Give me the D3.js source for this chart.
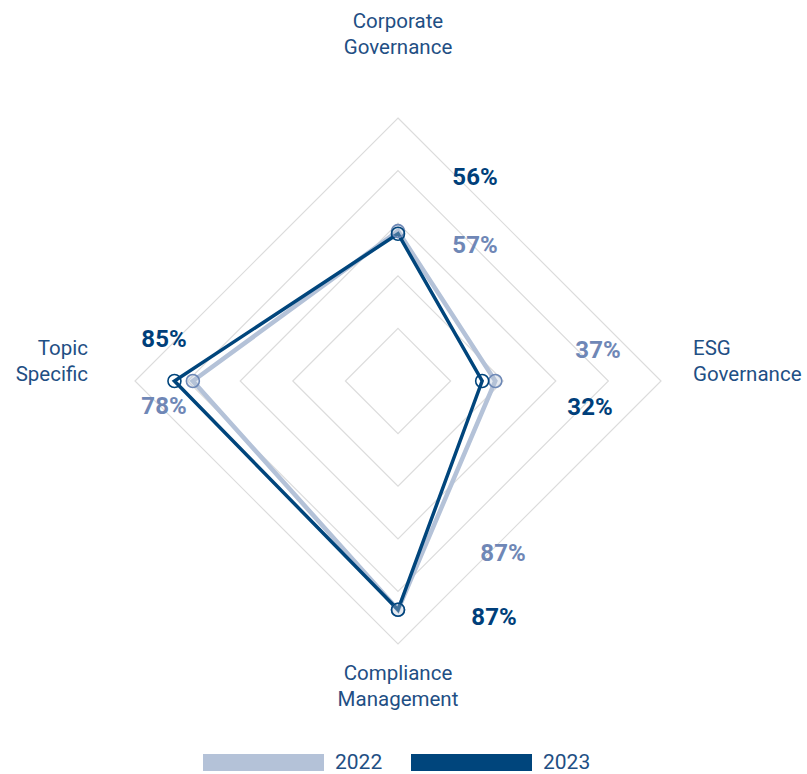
<!DOCTYPE html>
<html>
<head>
<meta charset="utf-8">
<script src="https://cdn.jsdelivr.net/npm/d3@7"></script>
<style>
  html, body { margin: 0; padding: 0; background: #ffffff; }
  svg { display: block; font-family: Roboto, "Liberation Sans", sans-serif; }
</style>
</head>
<body>
<svg id="chart" width="807" height="774"></svg>
<script>
// Axes of the radar, clockwise from the top
const categories = [
  ["Corporate", "Governance"],
  ["ESG", "Governance"],
  ["Compliance", "Management"],
  ["Topic", "Specific"]
];
const seriesNames = ["2022", "2023"];
const values2022 = [57, 37, 87, 78];
const values2023 = [56, 32, 87, 85];
const gridLevels = [20, 40, 60, 80, 100];

const colors = {
  "2022": { line: "#b4c2d8", dot: "#6d88b6", label: "#6f87b6" },
  "2023": { line: "#00457c", dot: "#00457c", label: "#003f7a" }
};

const svg = d3.select("#chart");
const cx = 398, cy = 381, R = 263;
const r = d3.scaleLinear().domain([0, 100]).range([0, R]);
const angle = i => (i / categories.length) * 2 * Math.PI;
const pt = (i, v) => [cx + r(v) * Math.sin(angle(i)), cy - r(v) * Math.cos(angle(i))];

// Grid rings
const g = svg.append("g");
gridLevels.forEach(lv => {
  g.append("path")
    .attr("d", d3.line()(categories.map((_, i) => pt(i, lv))) + "Z")
    .attr("fill", "none")
    .attr("stroke", "#dcdcdc")
    .attr("stroke-width", 1.2);
});

// Series polygons and markers
const series = [
  { name: "2022", values: values2022, width: 4.5 },
  { name: "2023", values: values2023, width: 3.5 }
];
series.forEach(s => {
  const pts = s.values.map((v, i) => pt(i, v));
  svg.append("path")
    .attr("d", d3.line()(pts) + "Z")
    .attr("fill", "none")
    .attr("stroke", colors[s.name].line)
    .attr("stroke-width", s.width)
    .attr("stroke-linejoin", "miter");
});
series.forEach(s => {
  s.values.forEach((v, i) => {
    const [x, y] = pt(i, v);
    svg.append("circle")
      .attr("cx", x).attr("cy", y).attr("r", 6.5)
      .attr("fill", s.name === "2022" ? "rgba(180,194,216,0.35)" : "none")
      .attr("stroke", colors[s.name].dot)
      .attr("stroke-width", 1.6);
  });
});

// Value labels placed beside each axis end
const labelSpots = [
  { "2023": [475, 185], "2022": [475, 253] },
  { "2022": [598, 358], "2023": [590, 415] },
  { "2022": [503, 561], "2023": [494, 625] },
  { "2023": [164, 347], "2022": [164, 414] }
];
series.forEach(s => {
  s.values.forEach((v, i) => {
    const [x, y] = labelSpots[i][s.name];
    svg.append("text")
      .attr("x", x).attr("y", y)
      .attr("text-anchor", "middle")
      .attr("font-size", 24)
      .attr("font-weight", 700)
      .attr("fill", colors[s.name].label)
      .text(v + "%");
  });
});

// Category labels
const catSpots = [
  { x: 398, y: 28, anchor: "middle" },
  { x: 693, y: 355, anchor: "start" },
  { x: 398, y: 680, anchor: "middle" },
  { x: 88, y: 355, anchor: "end" }
];
categories.forEach((lines, i) => {
  const t = svg.append("text")
    .attr("x", catSpots[i].x).attr("y", catSpots[i].y)
    .attr("text-anchor", catSpots[i].anchor)
    .attr("font-size", 20.5)
    .attr("fill", "#1f4f84");
  lines.forEach((ln, k) => {
    t.append("tspan").attr("x", catSpots[i].x).attr("dy", k === 0 ? 0 : 25.5).text(ln);
  });
});

// Legend
const legend = svg.append("g");
const legendX = d3.scalePoint().domain(seriesNames).range([203, 411]);
seriesNames.forEach(name => {
  const x = legendX(name);
  legend.append("rect")
    .attr("x", x).attr("y", 754).attr("width", 121).attr("height", 17)
    .attr("fill", colors[name].line);
  legend.append("text")
    .attr("x", x + 132).attr("y", 768.5)
    .attr("font-size", 21)
    .attr("fill", "#1f4f84")
    .text(name);
});
</script>
</body>
</html>
